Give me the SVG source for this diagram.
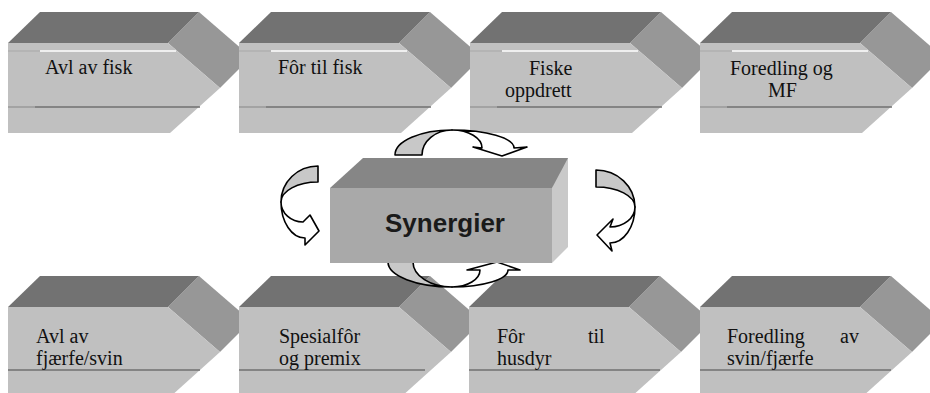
<svg xmlns="http://www.w3.org/2000/svg" xmlns:xlink="http://www.w3.org/1999/xlink" width="930" height="393" viewBox="0 0 930 393">
<style>
.top{fill:#727272}
.front{fill:#c0c0c0}
.side{fill:#979797}
.wl{stroke:#ffffff;stroke-width:1.5}
.gl{stroke:#b0b0b0;stroke-width:1.5}
.dl{stroke:#707070;stroke-width:1.5}
.dl2{stroke:#9a9a9a;stroke-width:1.5}
.t{font-family:"Liberation Serif","Times New Roman",serif;font-size:20px;fill:#111}
.tail{fill:#c8c8c8;stroke:#000;stroke-width:1.6;stroke-linejoin:round}
.head{fill:#ffffff;stroke:#000;stroke-width:1.6;stroke-linejoin:round}
</style>
<defs>
<g id="box">
<polygon class="side" points="160,43 191,12 243,57 212,88"/>
<polygon class="top" points="0,43 32,12 191,12 160,43"/>
<polygon class="front" points="0,43 160,43 212,88 162,133 0,133"/>
</g>
</defs>
<rect width="930" height="393" fill="#ffffff"/>

<g id="node-avl-fisk">
<use xlink:href="#box" x="8" y="0"/>
<line class="gl" x1="8" y1="51" x2="40" y2="51"/><line class="wl" x1="40" y1="51" x2="176" y2="51"/>
<line class="dl2" x1="8" y1="107" x2="35" y2="107"/><line class="dl" x1="35" y1="107" x2="200" y2="107"/>
<text class="t" x="45" y="74">Avl av fisk</text>
</g>
<g id="node-for-fisk">
<use xlink:href="#box" x="239" y="0"/>
<line class="gl" x1="239" y1="51" x2="271" y2="51"/><line class="wl" x1="271" y1="51" x2="407" y2="51"/>
<line class="dl2" x1="239" y1="107" x2="266" y2="107"/><line class="dl" x1="266" y1="107" x2="431" y2="107"/>
<text class="t" x="278" y="74">Fôr til fisk</text>
</g>
<g id="node-fiske-oppdrett">
<use xlink:href="#box" x="470" y="0"/>
<line class="gl" x1="470" y1="51" x2="502" y2="51"/><line class="wl" x1="502" y1="51" x2="638" y2="51"/>
<line class="dl2" x1="470" y1="107" x2="497" y2="107"/><line class="dl" x1="497" y1="107" x2="662" y2="107"/>
<text class="t" x="529" y="75">Fiske</text>
<text class="t" x="505" y="97">oppdrett</text>
</g>
<g id="node-foredling-mf">
<use xlink:href="#box" x="700" y="0"/>
<line class="gl" x1="700" y1="51" x2="732" y2="51"/><line class="wl" x1="732" y1="51" x2="868" y2="51"/>
<line class="dl2" x1="700" y1="107" x2="727" y2="107"/><line class="dl" x1="727" y1="107" x2="892" y2="107"/>
<text class="t" x="730" y="75">Foredling og</text>
<text class="t" x="768" y="97">MF</text>
</g>

<g id="node-avl-fjaerfe">
<use xlink:href="#box" x="8" y="264"/>
<line class="dl" x1="8" y1="370" x2="200" y2="370"/>
<text class="t" x="36" y="343">Avl av</text>
<text class="t" x="36" y="365">fjærfe/svin</text>
</g>
<g id="node-spesialfor">
<use xlink:href="#box" x="239" y="264"/>
<line class="dl" x1="239" y1="370" x2="425" y2="370"/>
<text class="t" x="279" y="343">Spesialfôr</text>
<text class="t" x="279" y="365">og premix</text>
</g>
<g id="node-for-husdyr">
<use xlink:href="#box" x="469" y="264"/>
<line class="dl" x1="469" y1="370" x2="660" y2="370"/>
<text class="t" x="497" y="343">Fôr</text>
<text class="t" x="588" y="343">til</text>
<text class="t" x="497" y="365">husdyr</text>
</g>
<g id="node-foredling-svin">
<use xlink:href="#box" x="700" y="264"/>
<line class="dl" x1="700" y1="370" x2="891" y2="370"/>
<text class="t" x="727" y="343">Foredling</text>
<text class="t" x="840" y="343">av</text>
<text class="t" x="727" y="365">svin/fjærfe</text>
</g>

<g id="connectors">
<path class="tail" d="M395,155 A57,25 0 0 1 452,130 A30,25 0 0 0 422,155 Z"/>
<path class="head" d="M452,130 A30,18 0 0 1 482,148 L473,147 L502,156 L527,147 L514,148 A62,18 0 0 0 452,130 Z"/>
<path class="tail" d="M388,262 A64,25 0 0 0 452,287 A39,25 0 0 1 413,262 Z"/>
<path class="head" d="M452,287 A28,17 0 0 0 480,270 L467,270 L497,262 L520,270 L508,270 A56,17 0 0 1 452,287 Z"/>
<path class="tail" d="M318,166 A37,36 0 0 0 281,202 A37,20 0 0 1 318,182 Z"/>
<path class="head" d="M281,202 A22,20 0 0 0 303,222 L310,215 L319,231 L305,245 L305,238 A24,36 0 0 1 281,202 Z"/>
<path class="tail" d="M596,170 A39,37 0 0 1 635,207 A39,20 0 0 0 596,187 Z"/>
<path class="head" d="M635,207 A25,20 0 0 1 610,227 L613,219 L597,235 L612,251 L610,243 A25,36 0 0 0 635,207 Z"/>
</g>

<g id="node-synergier">
<polygon fill="#c9c9c9" points="552,188 563,158 568,158 568,247 552,263"/>
<polygon fill="#868686" points="330,188 363,158 568,158 552,188"/>
<rect x="330" y="188" width="222" height="75" fill="#a9a9a9"/>
<text x="445" y="232" text-anchor="middle" font-family="'Liberation Sans',Arial,sans-serif" font-weight="bold" font-size="26" fill="#1a1a1a">Synergier</text>
</g>
</svg>
